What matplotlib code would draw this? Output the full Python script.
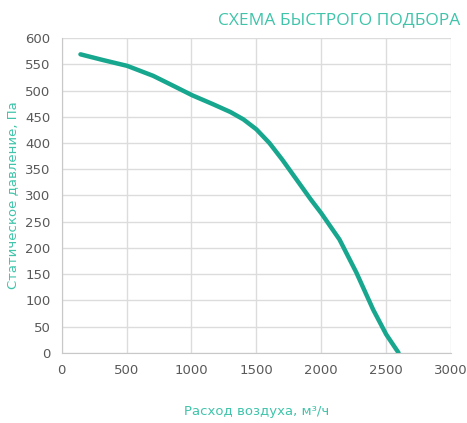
import matplotlib.pyplot as plt

# air flow, m3/h and static pressure, Pa
flow = [145, 320, 505, 705, 860, 1005, 1165, 1300, 1400, 1500, 1600,
        1700, 1810, 1920, 2000, 2140, 2270, 2400, 2500, 2595]
pressure = [569, 558, 547, 528, 509, 491, 474, 459, 445, 426, 400,
            368, 330, 292, 266, 216, 153, 82, 35, 0]

x_ticks = [0, 500, 1000, 1500, 2000, 2500, 3000]
y_ticks = list(range(0, 601, 50))

line_color = '#17a68e'
text_color = '#3fc4aa'
tick_color = '#595959'
grid_color = '#dcdcdc'

fig = plt.figure(figsize=(4.67, 4.23), dpi=100)
ax = fig.add_axes([0.132, 0.166, 0.834, 0.744])

ax.plot(flow, pressure, color=line_color, linewidth=3.2,
        solid_capstyle='round', solid_joinstyle='round')

ax.set_xlim(0, 3000)
ax.set_ylim(0, 600)
ax.set_xticks(x_ticks)
ax.set_yticks(y_ticks)
ax.grid(True, color=grid_color, linewidth=1)
ax.set_axisbelow(True)
for side in ['top', 'right']:
    ax.spines[side].set_visible(False)
for side in ['left', 'bottom']:
    ax.spines[side].set_color('#c8c8c8')
ax.tick_params(length=0, labelsize=9.5, colors=tick_color, pad=8)

ax.set_xlabel('Расход воздуха, м³/ч', color=text_color, fontsize=9.5, labelpad=20)
ax.set_ylabel('Статическое давление, Па', color=text_color, fontsize=9.5, labelpad=4)

fig.text(0.985, 0.953, 'СХЕМА БЫСТРОГО ПОДБОРА', color=text_color,
         fontsize=12.5, ha='right', va='center', family='Open Sans')

fig.savefig('out.png', dpi=100)
